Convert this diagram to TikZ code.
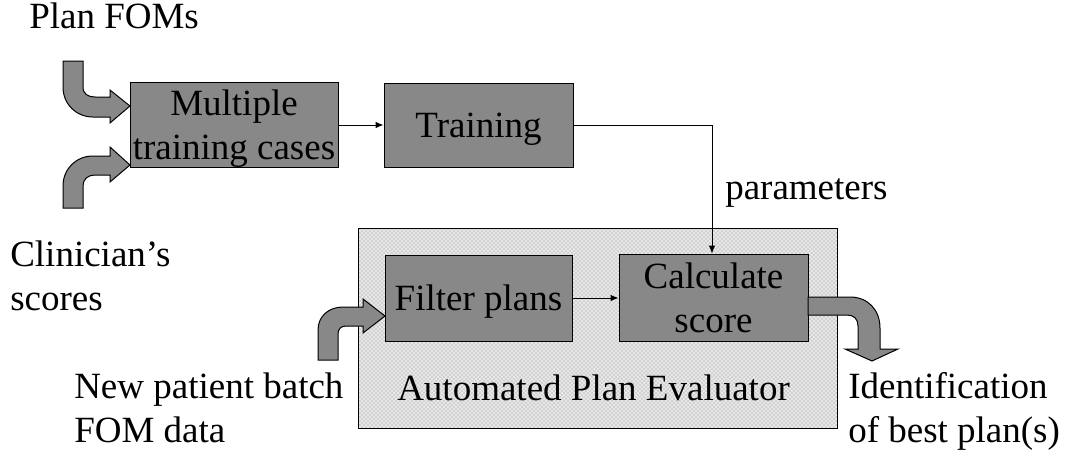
\documentclass[tikz,border=0pt]{standalone}
\usepackage{fontspec}
\setmainfont{Liberation Serif}
\usetikzlibrary{arrows.meta,patterns}
\definecolor{boxgray}{RGB}{136,136,136}
\newcommand{\bigfont}{\fontsize{27.75}{33}\selectfont}
\tikzset{
  box/.style={draw=black, line width=0.75pt, fill=boxgray, inner sep=0pt, align=center, font=\bigfont, text depth=0pt},
  lbl/.style={inner sep=0pt, align=left, font=\bigfont},
  fatarrow/.style={draw=black, line width=0.75pt, fill=boxgray, line join=miter},
  link/.style={draw=black, line width=0.75pt, -{Latex[length=6pt,width=5pt]}},
  evalbox/.style={draw=black, line width=0.75pt, inner sep=0pt,
    preaction={fill=gray!18}, pattern=crosshatch dots, pattern color=gray!95}
}
\begin{document}
\begin{tikzpicture}[x=0.75pt, y=-0.75pt]
\useasboundingbox (0,0) rectangle (1068,457);

% evaluator background
\node[evalbox, minimum width=359.25pt, minimum height=150pt] (ape) at (597.5,328) {};
\node[lbl, anchor=base west] (apelbl) at (397,400) {Automated Plan Evaluator};

% boxes
\node[box, minimum width=156pt, minimum height=63.75pt] (mtc) at (234,124.5) {Multiple\\training cases};
\node[box, minimum width=141.75pt, minimum height=63pt] (train) at (478.5,125) {Training};
\node[box, minimum width=140.25pt, minimum height=64.5pt] (filter) at (478.5,298) {Filter plans};
\node[box, minimum width=141.75pt, minimum height=65.25pt] (calc) at (713.5,297.5) {Calculate\\score};

% labels (multi-line labels: base is the last line)
\node[lbl, anchor=base west] (planfoms) at (29,28) {Plan FOMs};
\node[lbl, anchor=base west] (clin) at (10,310) {Clinician’s\\scores};
\node[lbl, anchor=base west] (newpat) at (74,442) {New patient batch\\FOM data};
\node[lbl, anchor=base west] (ident) at (848,442) {Identification\\of best plan(s)};
\node[lbl, anchor=base west] (params) at (725,199) {parameters};

% connectors
\coordinate (bend) at (712,125);
\draw[link] (mtc.east |- 0,125) -- (train.west |- 0,125);
\draw[link] (train.east |- bend) -- (bend) -- (bend |- calc.north);
\draw[link] (filter.east |- 0,298) -- (calc.west |- 0,298);

% fat arrows
\path[fatarrow] (63,61) -- (83,61) -- (83,87) .. controls (83,94) and (88,97) .. (95,97)
  -- (110,97) -- (110,90) -- (130,106) -- (110,123) -- (110,117) -- (93,117)
  .. controls (76,117) and (63,104) .. (63,87) -- cycle;
\path[fatarrow] (63,208) -- (83,208) -- (83,186) .. controls (83,179) and (88,175) .. (95,175)
  -- (110,175) -- (110,182) -- (130,165) -- (110,147) -- (110,156) -- (93,156)
  .. controls (76,156) and (63,169) .. (63,186) -- cycle;
\path[fatarrow] (318,360) -- (338,360) -- (338,334) .. controls (338,329) and (341,326) .. (346,326)
  -- (363,326) -- (363,333) -- (385,316) -- (363,299) -- (363,307) -- (343,307)
  .. controls (329,307) and (318,316) .. (318,330) -- cycle;
\path[fatarrow] (808,297) -- (850,297) .. controls (868,297) and (880,310) .. (880,328)
  -- (880,349) -- (898,349) -- (872,361) -- (845,349) -- (858,349) -- (858,326)
  .. controls (858,319) and (854,315) .. (847,315) -- (808,315) -- cycle;
\end{tikzpicture}
\end{document}
